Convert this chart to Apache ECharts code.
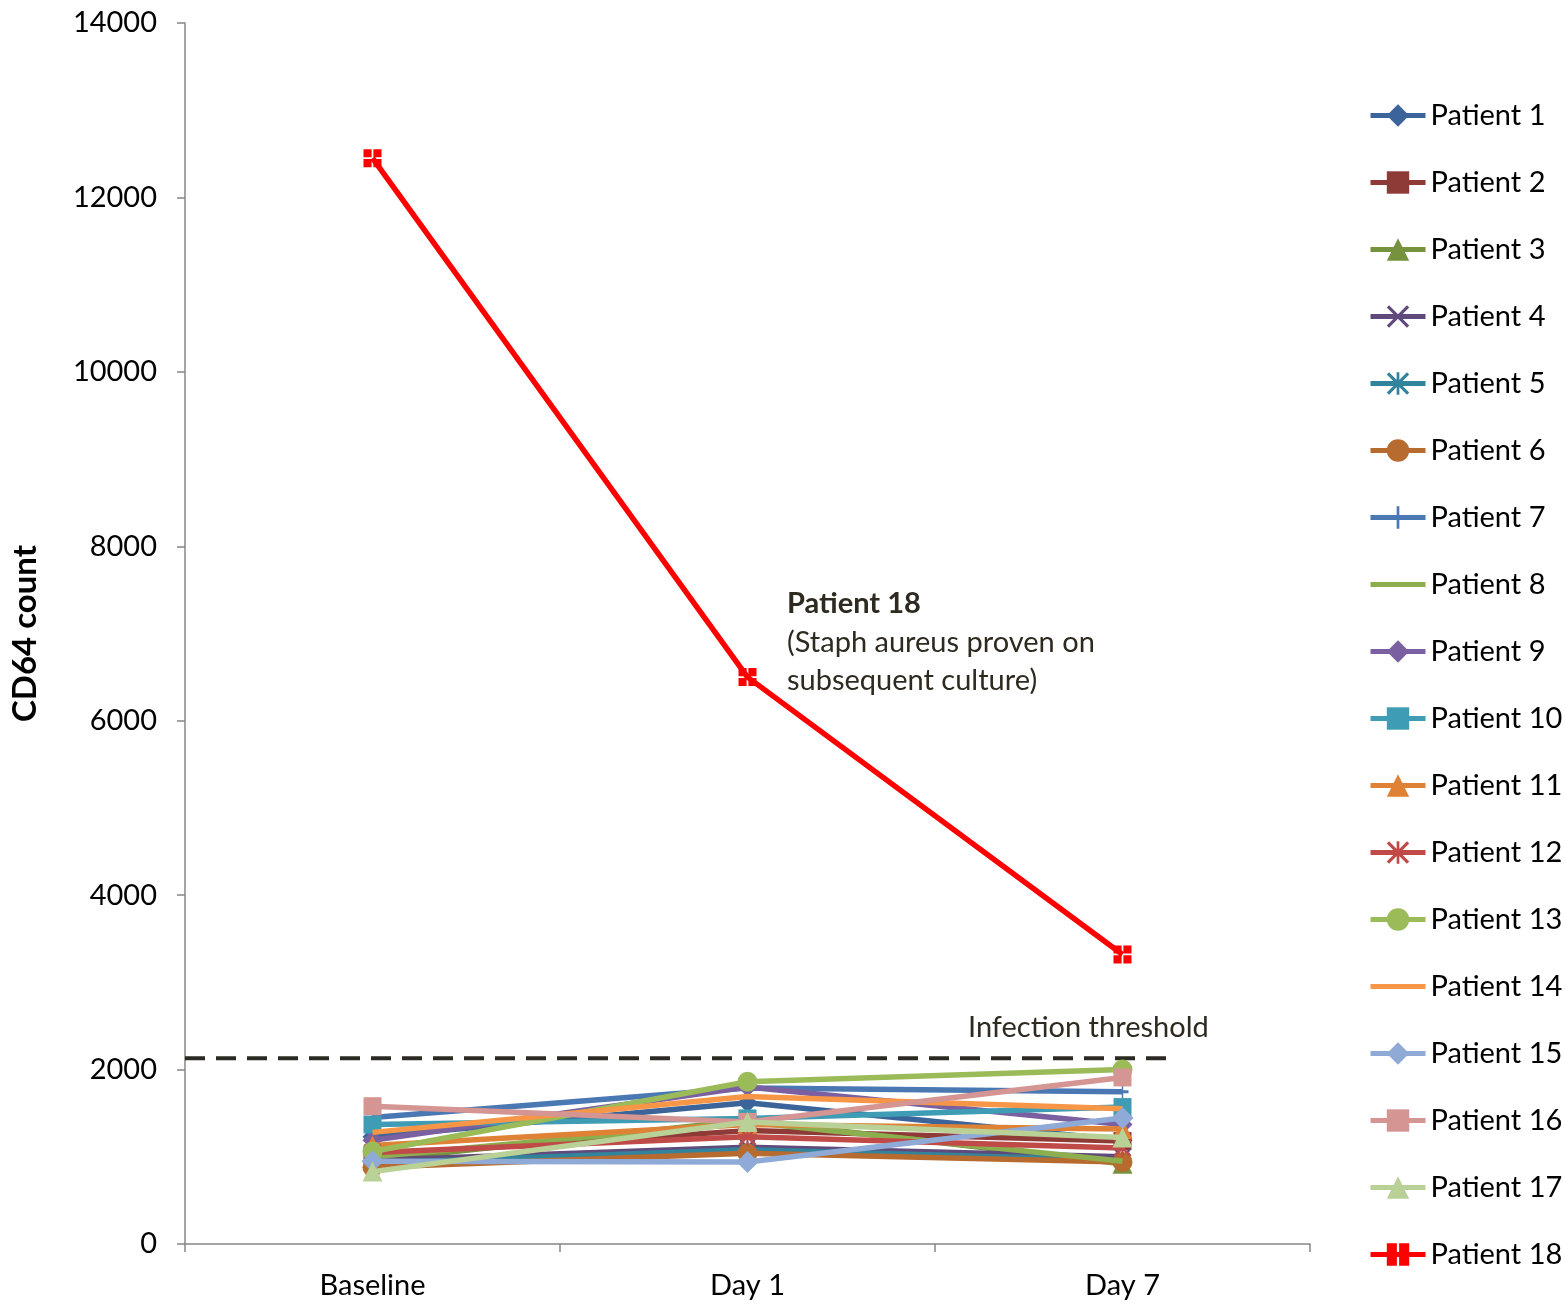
<!DOCTYPE html>
<html>
<head>
<meta charset="utf-8">
<script src="https://cdn.jsdelivr.net/npm/echarts@6/dist/echarts.min.js"></script>
<style>
html,body{margin:0;padding:0;background:#fff;}
#chart{width:1565px;height:1304px;}
</style>
</head>
<body>
<div id="chart"></div>
<script>
const categories = ['Baseline', 'Day 1', 'Day 7'];
const yTicks = { min: 0, max: 14000, interval: 2000 };

const patientNames = ['Patient 1','Patient 2','Patient 3','Patient 4','Patient 5','Patient 6',
  'Patient 7','Patient 8','Patient 9','Patient 10','Patient 11','Patient 12',
  'Patient 13','Patient 14','Patient 15','Patient 16','Patient 17','Patient 18'];

const p1  = [1230, 1620, 1190];
const p2  = [1020, 1300, 1180];
const p3  = [960, 1420, 920];
const p4  = [960, 1110, 1000];
const p5  = [930, 1080, 960];
const p6  = [880, 1040, 940];
const p7  = [1450, 1790, 1745];
const p8  = [1000, 1400, 950];
const p9  = [1190, 1800, 1370];
const p10 = [1370, 1440, 1570];
const p11 = [1130, 1370, 1320];
const p12 = [1050, 1230, 1100];
const p13 = [1060, 1860, 2000];
const p14 = [1280, 1690, 1550];
const p15 = [950, 940, 1445];
const p16 = [1580, 1400, 1910];
const p17 = [830, 1400, 1220];
const p18 = [12450, 6500, 3320];
const patientValues = [p1,p2,p3,p4,p5,p6,p7,p8,p9,p10,p11,p12,p13,p14,p15,p16,p17,p18];

const thresholdValue = 2130;
const thresholdExtent = [0, 2.63]; // in category-width units from left edge

const colors = ['#3B659A','#8E3A37','#76923C','#5F4A7B','#31849B','#B86B2F',
  '#4A78B2','#8DAE4E','#7A60A0','#3E9CB5','#E08235','#C04A48',
  '#9BBB59','#F79646','#8FAAD6','#D59593','#B9D097','#FF0000'];

const X_PATH = 'path://M0,1L1,0L5,4L9,0L10,1L6,5L10,9L9,10L5,6L1,10L0,9L4,5Z';
const AST_PATH = 'path://M0,1L1,0L5,4L9,0L10,1L6,5L10,9L9,10L5,6L1,10L0,9L4,5Z M4.4,0L5.6,0L5.6,10L4.4,10Z';
const PLUS_PATH = 'path://M4.4,0L5.6,0L5.6,4.4L10,4.4L10,5.6L5.6,5.6L5.6,10L4.4,10L4.4,5.6L0,5.6L0,4.4L4.4,4.4Z';
const CROSSSQ_PATH = 'path://M0,0L4.5,0L4.5,4.5L0,4.5Z M5.5,0L10,0L10,4.5L5.5,4.5Z M0,5.5L4.5,5.5L4.5,10L0,10Z M5.5,5.5L10,5.5L10,10L5.5,10Z';
const LINE_ICON = 'path://M0,0L55,0L55,5L0,5Z';

const symbols = ['diamond','rect','triangle',X_PATH,AST_PATH,'circle',
  PLUS_PATH,'none','diamond','rect','triangle',AST_PATH,
  'circle','none','diamond','rect','triangle',CROSSSQ_PATH];
const symbolSizes = [20,18,20,16,16,20, [12,24],0,20,18,20,18, 20,0,22,18,20,18];

const FONT = 'Lato';
const FS = 29;

const series = patientNames.map((name, i) => ({
  name: name,
  type: 'line',
  data: patientValues[i],
  symbol: symbols[i],
  symbolSize: symbolSizes[i],
  showSymbol: symbols[i] !== 'none',
  color: colors[i],
  lineStyle: { width: 5.5, color: colors[i] },
  itemStyle: { color: colors[i] },
  emphasis: { disabled: true },
  z: 2 + i * 0.01,
  animation: false
}));

series.push({
  name: 'threshold',
  type: 'line',
  xAxisIndex: 1,
  data: [[thresholdExtent[0], thresholdValue], [thresholdExtent[1], thresholdValue]],
  symbol: 'none',
  lineStyle: { width: 4, color: '#2B2A22', type: [20, 11] },
  z: 1,
  animation: false
});

const legendData = patientNames.map((name, i) =>
  symbols[i] === 'none' ? { name: name, icon: LINE_ICON } : { name: name });

const chart = echarts.init(document.getElementById('chart'));
chart.setOption({
  backgroundColor: '#ffffff',
  animation: false,
  grid: { left: 185, right: 255, top: 23, bottom: 60, containLabel: false },
  xAxis: [{
    type: 'category',
    data: categories,
    boundaryGap: true,
    axisLine: { lineStyle: { color: '#868686', width: 1.5 } },
    axisTick: { show: true, length: 8, lineStyle: { color: '#868686', width: 1.5 }, alignWithLabel: false },
    axisLabel: { fontFamily: FONT, fontSize: FS, color: '#000', margin: 27 }
  }, {
    type: 'value',
    min: 0, max: 3,
    show: false
  }],
  yAxis: {
    type: 'value',
    min: yTicks.min, max: yTicks.max, interval: yTicks.interval,
    name: 'CD64 count',
    nameLocation: 'middle',
    nameRotate: 90,
    nameGap: 143,
    nameTextStyle: { fontFamily: FONT, fontSize: 33, fontWeight: 'bold', color: '#000' },
    axisLine: { show: true, lineStyle: { color: '#868686', width: 1.5 } },
    axisTick: { show: true, length: 8, lineStyle: { color: '#868686', width: 1.5 } },
    splitLine: { show: false },
    axisLabel: { fontFamily: FONT, fontSize: FS, color: '#000', margin: 28, formatter: v => String(v) }
  },
  legend: {
    data: legendData,
    orient: 'vertical',
    left: 1363,
    top: 96,
    itemWidth: 55,
    itemHeight: 28,
    itemGap: 38,
    itemTextGap: 5,
    lineStyle: { width: 5 },
    textStyle: { fontFamily: FONT, fontSize: FS, color: '#000' },
    selectedMode: false
  },
  graphic: [
    { type: 'text', left: 787, top: 589, style: { text: 'Patient 18', fontFamily: FONT, fontSize: FS, fontWeight: 'bold', fill: '#2E2A20' } },
    { type: 'text', left: 787, top: 628, style: { text: '(Staph aureus proven on', fontFamily: FONT, fontSize: FS, fill: '#2E2A20' } },
    { type: 'text', left: 787, top: 666, style: { text: 'subsequent culture)', fontFamily: FONT, fontSize: FS, fill: '#2E2A20' } },
    { type: 'text', left: 968, top: 1013, style: { text: 'Infection threshold', fontFamily: FONT, fontSize: FS, fill: '#2E2A20' } }
  ],
  series: series
});
</script>
</body>
</html>
